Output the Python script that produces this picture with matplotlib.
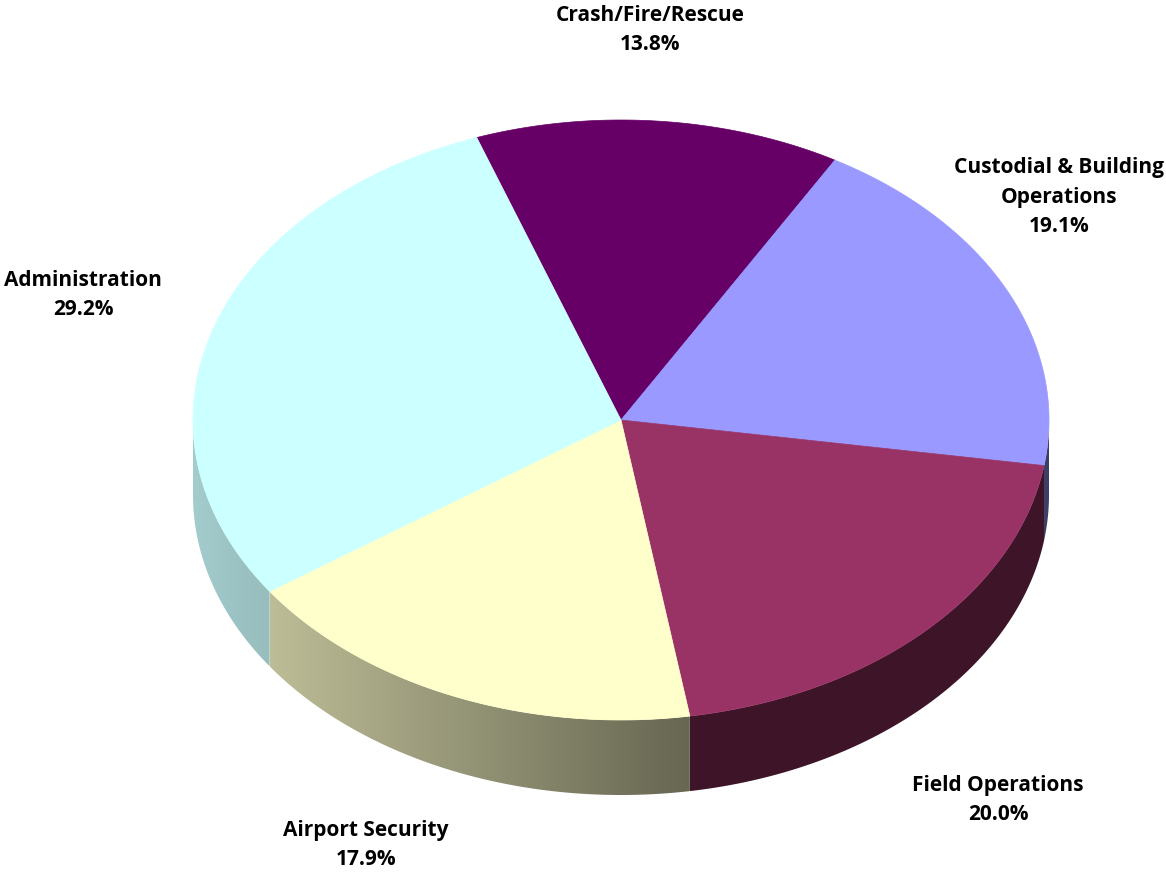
import numpy as np
import matplotlib.pyplot as plt
from matplotlib.colors import to_rgb
from matplotlib.patches import Polygon

# Budget share by division (percent), clockwise from the top
labels = ["Crash/Fire/Rescue", "Custodial & Building\nOperations", "Field Operations",
          "Airport Security", "Administration"]
shares = [13.8, 19.1, 20.0, 17.9, 29.2]
colors = ["#660066", "#9999FF", "#993366", "#FFFFCC", "#CCFFFF"]

# label anchor points (pixel space)
label_pos = [(650, 30), (1059, 197), (998, 800), (366, 845), (83, 295)]

cx, cy = 621, 420       # centre of the top face
rx, ry = 428, 300       # ellipse radii
depth = 75              # thickness of the disc
start = -19.7           # degrees clockwise from 12 o'clock

fig = plt.figure(figsize=(11.66, 8.73), dpi=100)
ax = fig.add_axes([0, 0, 1, 1])
ax.axis("off")


def pt(phi):
    r = np.radians(phi)
    return cx + rx * np.sin(r), cy - ry * np.cos(r)


def side_shade(x):
    # lighter on the left side of the rim, darker toward the right
    t = np.clip((x - (cx - rx)) / 500.0, 0, 1)
    return 0.80 - 0.40 * t


total = sum(shares)
bounds = start + 360 * np.concatenate([[0], np.cumsum(shares)]) / total

# rim (only the front half, 90..270 degrees, faces the viewer)
for (a0, a1), col in zip(zip(bounds[:-1], bounds[1:]), colors):
    lo, hi = max(a0, 90), min(a1, 270)
    if lo >= hi:
        continue
    arc = np.linspace(lo, hi, 200)
    top = [pt(a) for a in arc]
    bottom = [(x, y + depth) for x, y in reversed(top)]
    rim = Polygon(top + bottom, closed=True, facecolor="none", edgecolor="none")
    ax.add_patch(rim)
    xs = [p[0] for p in top]
    x0, x1 = min(xs), max(xs)
    ys = [p[1] for p in top]
    y0, y1 = min(ys), max(ys) + depth
    gx = np.linspace(x0, x1, 300)
    grad = np.clip(np.outer(side_shade(gx), np.array(to_rgb(col))), 0, 1)
    img = ax.imshow(grad[np.newaxis, :, :], extent=(x0, x1, y1, y0),
                    aspect="auto", interpolation="bilinear")
    img.set_clip_path(rim)

# top face
for (a0, a1), col in zip(zip(bounds[:-1], bounds[1:]), colors):
    arc = np.linspace(a0, a1, 200)
    verts = [(cx, cy)] + [pt(a) for a in arc]
    ax.add_patch(Polygon(verts, closed=True, facecolor=col, edgecolor=col, lw=0.5))

# data labels
for lab, val, (lx, ly) in zip(labels, shares, label_pos):
    ax.text(lx, ly, f"{lab}\n{val:.1f}%", ha="center", va="center",
            fontsize=15, fontweight="bold", family="Open Sans", linespacing=1.5,
            color="black")

ax.set_xlim(0, 1166)
ax.set_ylim(873, 0)

fig.savefig("out.png", dpi=100)
